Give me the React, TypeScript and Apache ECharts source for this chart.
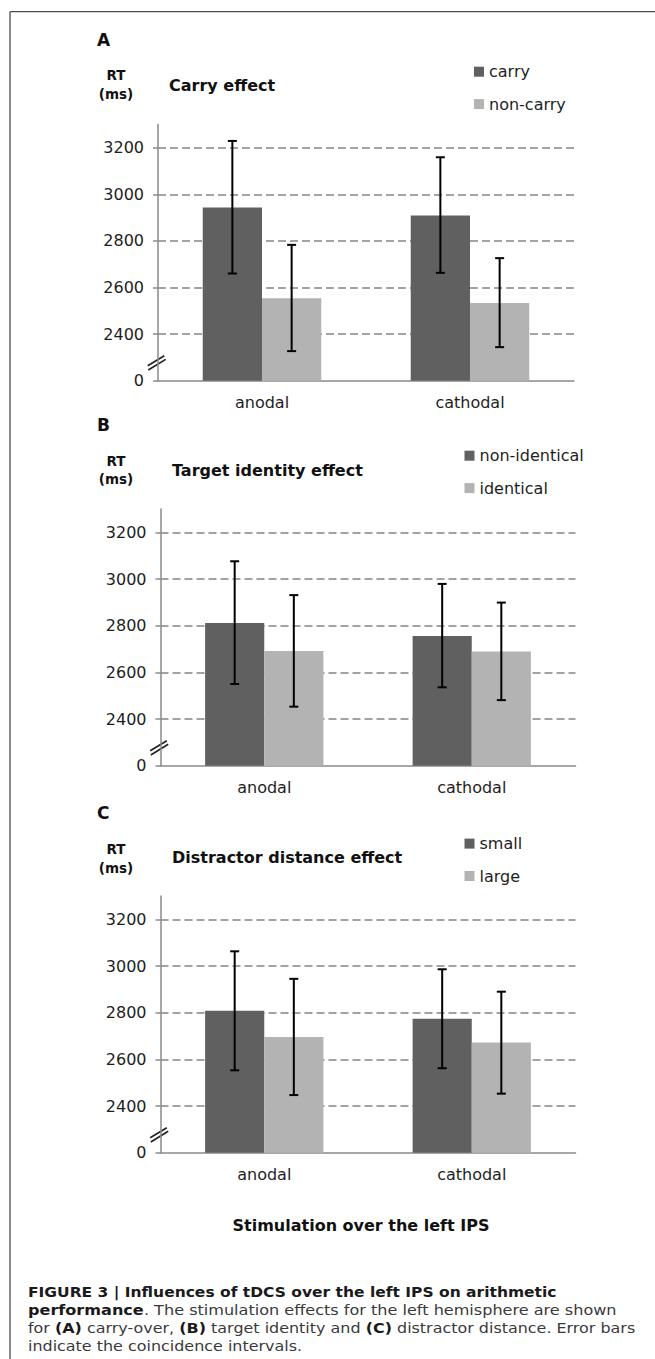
import React, { useEffect, useRef } from "react";
import * as echarts from "echarts";

// ---------- data ----------
const CATEGORIES = ["anodal", "cathodal"];
const PANEL_LETTERS = ["A", "B", "C"];
const PANEL_TITLES = ["Carry effect", "Target identity effect", "Distractor distance effect"];
const Y_LABEL_LINES = ["RT", "(ms)"];
const X_TITLE = "Stimulation over the left IPS";

// broken value axis: the bottom tick (2200 on the linear scale) is labelled "0"
const Y_MIN = 2200;
const Y_MAX = 3300;
const Y_STEP = 200;
const Y_TICKS = [2200, 2400, 2600, 2800, 3000, 3200];
const Y_BREAK_VALUE = 2280;

// Panel A: carry effect
const A_NAMES = ["carry", "non-carry"];
const A_DARK = [2943, 2909];
const A_DARK_HI = [3229, 3159];
const A_DARK_LO = [2660, 2663];
const A_LIGHT = [2554, 2534];
const A_LIGHT_HI = [2783, 2726];
const A_LIGHT_LO = [2327, 2344];

// Panel B: target identity effect
const B_NAMES = ["non-identical", "identical"];
const B_DARK = [2811, 2756];
const B_DARK_HI = [3076, 2979];
const B_DARK_LO = [2550, 2536];
const B_LIGHT = [2691, 2689];
const B_LIGHT_HI = [2931, 2899];
const B_LIGHT_LO = [2453, 2481];

// Panel C: distractor distance effect
const C_NAMES = ["small", "large"];
const C_DARK = [2808, 2774];
const C_DARK_HI = [3063, 2986];
const C_DARK_LO = [2553, 2562];
const C_LIGHT = [2696, 2672];
const C_LIGHT_HI = [2945, 2890];
const C_LIGHT_LO = [2447, 2453];

const CAPTION_LINES = [
  "{b|FIGURE 3 | Influences of tDCS over the left IPS on arithmetic}",
  "{b|performance}{r|. The stimulation effects for the left hemisphere are shown}",
  "{r|for }{b|(A)}{r| carry-over, }{b|(B)}{r| target identity and }{b|(C)}{r| distractor distance. Error bars}",
  "{r|indicate the coincidence intervals.}",
];

// ---------- styling / layout ----------
const FONT = "DejaVu Sans";
const DARK = "#606060";
const LIGHT = "#b3b3b3";
const AXIS_GREY = "#8a8a8a";
const TEXT = "#1e1e1e";
const CAT_GAP = 0.43;
const BAR_FRAC = (1 - CAT_GAP) / 2;

const GRIDS = [
  { left: 158, top: 124.4, width: 416, height: 256.3 },
  { left: 160.5, top: 509, width: 415, height: 256.7 },
  { left: 160.5, top: 896, width: 415, height: 256.7 },
];
const LETTER_Y = [40, 425, 813];
const RT_Y = [75, 460.7, 849];
const TITLE_X = [169, 172, 172];
const TITLE_Y = [85, 470, 857];
const LEGEND_LEFT = [474, 464.5, 464.5];
const LEGEND_TOP = [62.7, 446.7, 834.6];
const CAP_Y = [1291.7, 1310, 1328.3, 1346.7];
const CAP_SCALE = [1.07, 1.11, 1.1, 1.1];

const PANELS = [
  { names: A_NAMES, dark: A_DARK, darkHi: A_DARK_HI, darkLo: A_DARK_LO, light: A_LIGHT, lightHi: A_LIGHT_HI, lightLo: A_LIGHT_LO },
  { names: B_NAMES, dark: B_DARK, darkHi: B_DARK_HI, darkLo: B_DARK_LO, light: B_LIGHT, lightHi: B_LIGHT_HI, lightLo: B_LIGHT_LO },
  { names: C_NAMES, dark: C_DARK, darkHi: C_DARK_HI, darkLo: C_DARK_LO, light: C_LIGHT, lightHi: C_LIGHT_HI, lightLo: C_LIGHT_LO },
];

const renderErr = (_params: any, api: any) => {
  const k = api.value(0);
  const side = api.value(3);
  const top = api.coord([k, api.value(1)]);
  const bot = api.coord([k, api.value(2)]);
  const cw = api.size([1, 0])[0];
  const x = top[0] + (side * cw * BAR_FRAC) / 2;
  const cap = 4.5;
  const style = { stroke: "#000", lineWidth: 2 };
  return {
    type: "group",
    children: [
      { type: "line", shape: { x1: x, y1: top[1], x2: x, y2: bot[1] }, style },
      { type: "line", shape: { x1: x - cap, y1: top[1], x2: x + cap, y2: top[1] }, style },
      { type: "line", shape: { x1: x - cap, y1: bot[1], x2: x + cap, y2: bot[1] }, style },
    ],
  };
};

export default function App() {
  const ref = useRef<HTMLDivElement>(null);

  useEffect(() => {
    if (!ref.current) return;
    const chart = echarts.init(ref.current, undefined, { renderer: "svg" });

    const grid = GRIDS.map((g) => ({ ...g, containLabel: false }));

    const xAxis = GRIDS.map((_, i) => ({
      type: "category",
      gridIndex: i,
      data: CATEGORIES,
      axisLine: { show: true, lineStyle: { color: AXIS_GREY, width: 1.5 } },
      axisTick: { show: false },
      axisLabel: { fontFamily: FONT, fontSize: 16, color: TEXT, margin: 14 },
      splitLine: { show: false },
    }));

    const yAxis = GRIDS.map((_, i) => ({
      type: "value",
      gridIndex: i,
      min: Y_MIN,
      max: Y_MAX,
      interval: Y_STEP,
      axisLine: { show: true, lineStyle: { color: AXIS_GREY, width: 1.5 } },
      axisTick: { show: true, length: 5, customValues: Y_TICKS, lineStyle: { color: AXIS_GREY, width: 1.5 } },
      axisLabel: {
        customValues: Y_TICKS,
        formatter: (v: number) => (v === Y_MIN ? "0" : String(v)),
        fontFamily: FONT,
        fontSize: 16,
        color: TEXT,
        margin: 14,
      },
      splitLine: {
        show: true,
        showMinLine: false,
        showMaxLine: true,
        lineStyle: { color: "#858585", type: [8, 4], width: 1.5 },
      },
    }));

    const series: any[] = [];
    PANELS.forEach((p, i) => {
      series.push({
        type: "bar",
        name: p.names[0],
        xAxisIndex: i,
        yAxisIndex: i,
        data: p.dark,
        itemStyle: { color: DARK },
        barGap: "0%",
        barCategoryGap: CAT_GAP * 100 + "%",
        z: 2,
      });
      series.push({
        type: "bar",
        name: p.names[1],
        xAxisIndex: i,
        yAxisIndex: i,
        data: p.light,
        itemStyle: { color: LIGHT },
        barGap: "0%",
        barCategoryGap: CAT_GAP * 100 + "%",
        z: 2,
      });
      series.push({
        type: "custom",
        name: p.names[0] + " CI",
        xAxisIndex: i,
        yAxisIndex: i,
        renderItem: renderErr,
        encode: { x: 0, y: [1, 2] },
        data: CATEGORIES.map((_, k) => [k, p.darkHi[k], p.darkLo[k], -1]),
        z: 5,
        silent: true,
      });
      series.push({
        type: "custom",
        name: p.names[1] + " CI",
        xAxisIndex: i,
        yAxisIndex: i,
        renderItem: renderErr,
        encode: { x: 0, y: [1, 2] },
        data: CATEGORIES.map((_, k) => [k, p.lightHi[k], p.lightLo[k], 1]),
        z: 5,
        silent: true,
      });
    });

    const legend = PANELS.map((p, i) => ({
      data: p.names,
      orient: "vertical",
      left: LEGEND_LEFT[i],
      top: LEGEND_TOP[i],
      padding: 0,
      itemWidth: 10,
      itemHeight: 10,
      itemGap: 14.4,
      icon: "rect",
      selectedMode: false,
      textStyle: { fontFamily: FONT, fontSize: 16, color: TEXT, lineHeight: 18 },
    }));

    const graphic: any[] = [];
    // figure frame (left and top rules)
    graphic.push({ type: "line", shape: { x1: 10, y1: 11.7, x2: 655, y2: 11.7 }, style: { stroke: "#4d4d4d", lineWidth: 1.3 } });
    graphic.push({ type: "line", shape: { x1: 10, y1: 11.7, x2: 10, y2: 1359 }, style: { stroke: "#4d4d4d", lineWidth: 1.3 } });

    PANELS.forEach((_, i) => {
      graphic.push({
        type: "text",
        x: 97,
        y: LETTER_Y[i],
        style: { text: PANEL_LETTERS[i], font: `bold 17px "${FONT}"`, fill: "#111", align: "left", verticalAlign: "middle" },
      });
      graphic.push({
        type: "text",
        x: 116,
        y: RT_Y[i],
        style: { text: Y_LABEL_LINES[0], font: `bold 13.5px "${FONT}"`, fill: "#111", align: "center", verticalAlign: "middle" },
      });
      graphic.push({
        type: "text",
        x: 116,
        y: RT_Y[i] + 18.5,
        style: { text: Y_LABEL_LINES[1], font: `bold 13.5px "${FONT}"`, fill: "#111", align: "center", verticalAlign: "middle" },
      });
      graphic.push({
        type: "text",
        x: TITLE_X[i],
        y: TITLE_Y[i],
        style: { text: PANEL_TITLES[i], font: `bold 16px "${FONT}"`, fill: "#111", align: "left", verticalAlign: "middle" },
      });
    });

    graphic.push({
      type: "text",
      x: 361,
      y: 1225,
      style: { text: X_TITLE, font: `bold 16px "${FONT}"`, fill: "#111", align: "center", verticalAlign: "middle" },
    });

    CAPTION_LINES.forEach((line, j) => {
      graphic.push({
        type: "text",
        x: 28,
        y: CAP_Y[j],
        scaleX: CAP_SCALE[j],
        style: {
          text: line,
          align: "left",
          verticalAlign: "middle",
          rich: {
            b: { fontFamily: FONT, fontSize: 14.5, fontWeight: "bold", fill: "#1a1a1a" },
            r: { fontFamily: FONT, fontSize: 14.5, fontWeight: "normal", fill: "#3a3a3a" },
          },
        },
      });
    });

    chart.setOption({
      animation: false,
      backgroundColor: "#ffffff",
      grid,
      xAxis,
      yAxis,
      legend,
      series,
      graphic,
    });

    // axis-break marks ("//") on each value axis, positioned through the axis scale
    const breaks: any[] = [];
    GRIDS.forEach((g, i) => {
      const yb = chart.convertToPixel({ yAxisIndex: i } as any, Y_BREAK_VALUE) as number;
      const x0 = g.left;
      const st = { stroke: "#222", lineWidth: 1.7 };
      breaks.push({ type: "line", shape: { x1: x0 - 10.3, y1: yb + 3.7, x2: x0 + 6.3, y2: yb - 6.3 }, style: st });
      breaks.push({ type: "line", shape: { x1: x0 - 9.7, y1: yb + 8, x2: x0 + 7.7, y2: yb - 2.7 }, style: st });
    });
    chart.setOption({ graphic: [...graphic, ...breaks] });

    return () => chart.dispose();
  }, []);

  return (
    <div
      ref={ref}
      style={{ position: "absolute", left: 0, top: 0, width: 655, height: 1359, background: "#fff" }}
    />
  );
}
